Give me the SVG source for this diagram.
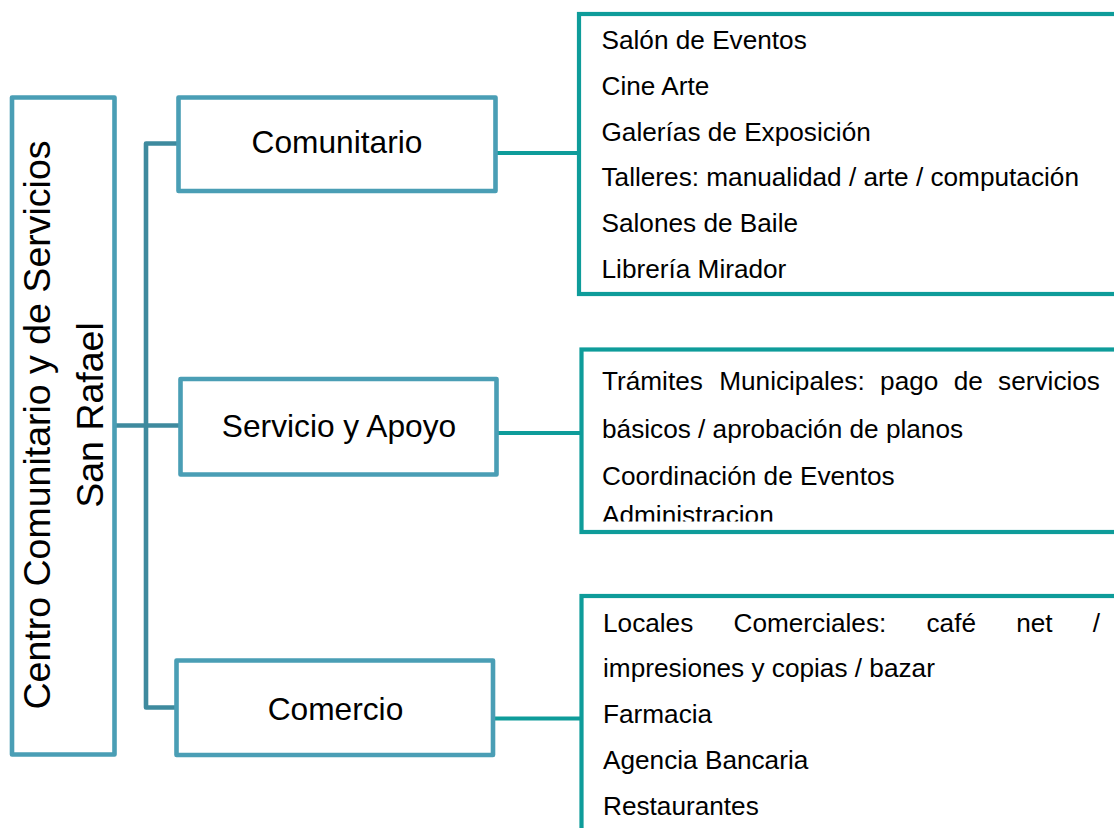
<svg xmlns="http://www.w3.org/2000/svg" width="1114" height="828" viewBox="0 0 1114 828">
<style>
.box{fill:#fff;stroke:#4A9EB5;stroke-width:4.6;stroke-linejoin:round}
.panel{fill:#fff;stroke:#0E9C9A;stroke-width:4.2}
.tree{fill:none;stroke:#3E8A9E;stroke-width:4.6;stroke-linejoin:round}
.link{fill:none;stroke:#0E9C9A;stroke-width:4.2}
.lbl{font-family:"Liberation Sans",Arial,sans-serif;font-size:31.7px;fill:#000;text-anchor:middle}
.vt{font-family:"Liberation Sans",Arial,sans-serif;font-size:37.5px;fill:#000;text-anchor:middle}
.it{font-family:"Liberation Sans",Arial,sans-serif;font-size:26.2px;fill:#000}
</style>
<defs>
<clipPath id="clip2"><rect x="583" y="352" width="540" height="169.5"/></clipPath>
</defs>
<rect width="1114" height="828" fill="#fff"/>
<g id="connectors">
<path class="tree" d="M178.5,143.5 H146 V707.5 H176.5"/>
<path class="tree" d="M115,425.5 H180.5"/>
<path class="link" d="M495.5,153 H579"/>
<path class="link" d="M496.5,433 H581.5"/>
<path class="link" d="M493,718.5 H581.5"/>
</g>
<g id="root">
<rect class="box" x="12" y="97.5" width="102.5" height="657"/>
<text class="vt" transform="translate(49.5,425) rotate(-90)">Centro Comunitario y de Servicios</text>
<text class="vt" transform="translate(103,415) rotate(-90)">San Rafael</text>
</g>
<g id="comunitario">
<rect class="box" x="178.5" y="97.5" width="317" height="93.5"/>
<text class="lbl" x="337" y="153.3">Comunitario</text>
</g>
<g id="servicio">
<rect class="box" x="180.5" y="379" width="316" height="95.5"/>
<text class="lbl" x="339" y="436.5">Servicio y Apoyo</text>
</g>
<g id="comercio">
<rect class="box" x="176.5" y="660.5" width="316.5" height="94.5"/>
<text class="lbl" x="335.5" y="719.5">Comercio</text>
</g>
<g id="panel-comunitario">
<rect class="panel" x="579" y="14" width="560" height="280"/>
<text class="it" x="601.5" y="49.3">Salón de Eventos</text>
<text class="it" x="601.5" y="95">Cine Arte</text>
<text class="it" x="601.5" y="140.7">Galerías de Exposición</text>
<text class="it" x="601.5" y="186.4">Talleres: manualidad / arte / computación</text>
<text class="it" x="601.5" y="232.1">Salones de Baile</text>
<text class="it" x="601.5" y="277.8">Librería Mirador</text>
</g>
<g id="panel-servicio">
<rect class="panel" x="581.5" y="349.5" width="560" height="182.5"/>
<g clip-path="url(#clip2)">
<text class="it" y="390"><tspan x="602">Trámites</tspan><tspan x="719.2">Municipales:</tspan><tspan x="880.1">pago</tspan><tspan x="953.7">de</tspan><tspan x="998.1">servicios</tspan></text>
<text class="it" x="602" y="437.5">básicos / aprobación de planos</text>
<text class="it" x="602" y="485">Coordinación de Eventos</text>
<text class="it" x="602" y="523.5">Administracion</text>
</g>
</g>
<g id="panel-comercio">
<rect class="panel" x="581.5" y="596" width="560" height="300"/>
<text class="it" y="631.7"><tspan x="603">Locales</tspan><tspan x="733.5">Comerciales:</tspan><tspan x="926.5">café</tspan><tspan x="1016.2">net</tspan><tspan x="1092.7">/</tspan></text>
<text class="it" x="603" y="677.4">impresiones y copias / bazar</text>
<text class="it" x="603" y="723.1">Farmacia</text>
<text class="it" x="603" y="768.8">Agencia Bancaria</text>
<text class="it" x="603" y="814.5">Restaurantes</text>
</g>
</svg>
